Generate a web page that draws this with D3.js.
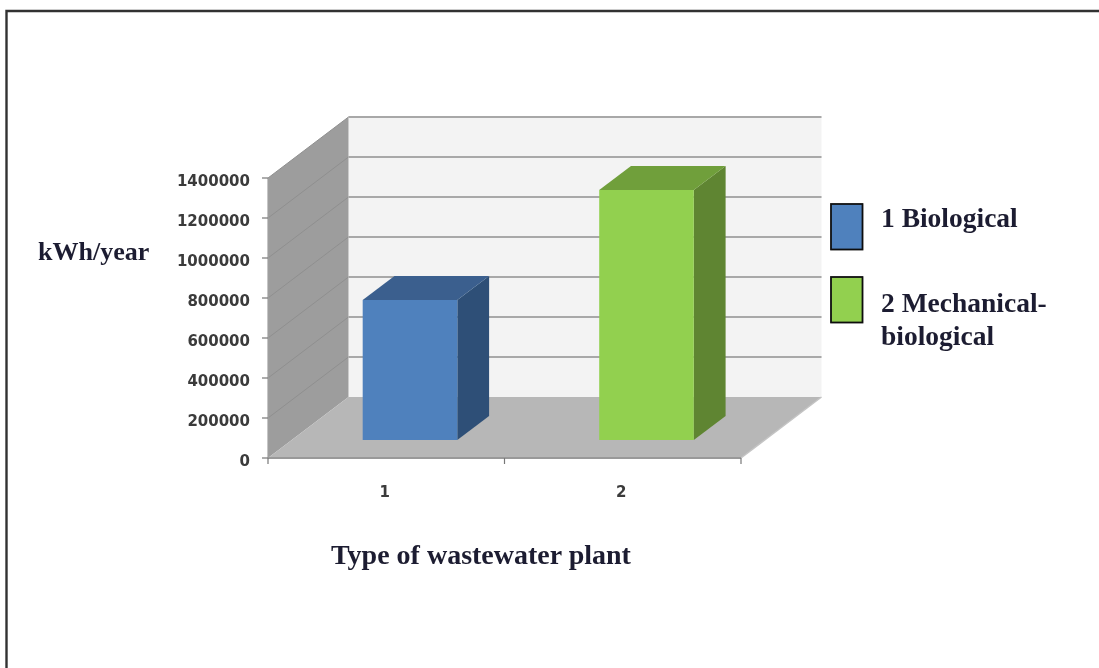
<!DOCTYPE html>
<html><head><meta charset="utf-8">
<script src="https://cdn.jsdelivr.net/npm/d3@7"></script>
<style>
html,body{margin:0;padding:0;background:#fff}
svg{display:block}
.tick-y{font-family:"DejaVu Sans",sans-serif;font-size:15px;font-weight:700;fill:#3a3a3a}
.serif{font-family:"Liberation Serif",serif;font-weight:700;fill:#1f1f30}
</style></head><body>
<svg id="c" width="1099" height="668"></svg>
<script>
const categories = ["1", "2"];
const values = [700000, 1250000];
const yTickValues = [0, 200000, 400000, 600000, 800000, 1000000, 1200000, 1400000];
const legendLabels = [["1 Biological"], ["2 Mechanical-", "biological"]];
const faceColors = ["#4f81bd", "#92d050"];
const topColors = ["#3a5f8e", "#6f9f3a"];
const sideColors = ["#2e5077", "#5f8530"];
const yTitle = "kWh/year";
const xTitle = "Type of wastewater plant";

const svg = d3.select("#c");
const defs = svg.append("defs");
defs.append("filter").attr("id","soft").append("feGaussianBlur").attr("stdDeviation",0.5);
const root = svg.append("g").attr("filter","url(#soft)");

const x = d3.scaleBand().domain(categories).range([268,741]).paddingInner(0.6).paddingOuter(0.3);
const y = d3.scaleLinear().domain([0,1400000]).range([458,178]);
const depth = d3.scaleLinear().domain([0,1]);
const dX = depth.copy().range([0,80.5]);
const dY = depth.copy().range([0,-61]);
const P = (px, v, d) => [px + dX(d), y(v) + dY(d)];
const line = d3.line();
const poly = pts => line(pts) + "Z";

// frame
root.append("path").attr("d","M6.5,668V11H1099").attr("fill","none").attr("stroke","#333").attr("stroke-width",2.4);

const x0 = 268, x1 = 741, vMax = 1400000;
// back wall
root.append("path").attr("d",poly([P(x0,0,1),P(x1,0,1),P(x1,vMax,1),P(x0,vMax,1)])).attr("fill","#f3f3f3");
// side wall
root.append("path").attr("d",poly([P(x0,0,0),P(x0,0,1),P(x0,vMax,1),P(x0,vMax,0)])).attr("fill","#9d9d9d");
// floor
root.append("path").attr("d",poly([P(x0,0,0),P(x1,0,0),P(x1,0,1),P(x0,0,1)])).attr("fill","#b7b7b7");
// gridlines
yTickValues.forEach(t=>{
  if(t>0) root.append("path").attr("d",line([P(x0,t,0),P(x0,t,1)])).attr("fill","none").attr("stroke","#8f8f8f").attr("stroke-width",1);
  if(t>0) root.append("path").attr("d",line([P(x0,t,1),P(x1,t,1)])).attr("fill","none").attr("stroke","#a8a8a8").attr("stroke-width",2);
});
root.append("path").attr("d",line([P(x1,0,0),P(x1,0,1)])).attr("fill","none").attr("stroke","#c4c4c4").attr("stroke-width",1.5);
// axes
root.append("path").attr("d",line([P(x0,0,0),P(x0,vMax,0)])).attr("fill","none").attr("stroke","#a0a0a0").attr("stroke-width",1.2);
root.append("path").attr("d",line([P(x0,0,0),P(x1,0,0)])).attr("fill","none").attr("stroke","#999").attr("stroke-width",1.8);
yTickValues.forEach(t=>{
  root.append("path").attr("d",line([[x0-6,y(t)],[x0,y(t)]])).attr("stroke","#777").attr("stroke-width",1.2);
  root.append("text").attr("class","tick-y").attr("x",250).attr("y",y(t)+8).attr("text-anchor","end").text(t);
});
[x0,(x0+x1)/2,x1].forEach(v=>root.append("path").attr("d",line([[v,458],[v,464]])).attr("stroke","#777").attr("stroke-width",1.2));
categories.forEach(c=>{
  root.append("text").attr("class","tick-y").attr("x",x(c)+x.bandwidth()/2-1.5).attr("y",497).attr("text-anchor","middle").text(c);
});
// bars
const d0 = 0.295, d1 = 0.69;
categories.forEach((c,i)=>{
  const l = x(c), r = l + x.bandwidth(), v = values[i];
  const g = root.append("g");
  g.append("path").attr("d",poly([P(r,0,d0),P(r,0,d1),P(r,v,d1),P(r,v,d0)])).attr("fill",sideColors[i]);
  g.append("path").attr("d",poly([P(l,v,d0),P(r,v,d0),P(r,v,d1),P(l,v,d1)])).attr("fill",topColors[i]);
  g.append("path").attr("d",poly([P(l,0,d0),P(r,0,d0),P(r,v,d0),P(l,v,d0)])).attr("fill",faceColors[i]);
});
// titles
root.append("text").attr("class","serif").attr("x",38).attr("y",260).style("font-size","26px").text(yTitle);
root.append("text").attr("class","serif").attr("x",331).attr("y",564).style("font-size","28px").text(xTitle);
// legend
const legendY = [204,277];
const textY = [[227],[312,345]];
legendLabels.forEach((ls,i)=>{
  root.append("rect").attr("x",831).attr("y",legendY[i]).attr("width",31.5).attr("height",45.5).attr("fill",faceColors[i]).attr("stroke","#111").attr("stroke-width",1.8);
  ls.forEach((t,j)=>root.append("text").attr("class","serif").attr("x",881).attr("y",textY[i][j]).style("font-size","27.5px").text(t));
});
</script></body></html>
